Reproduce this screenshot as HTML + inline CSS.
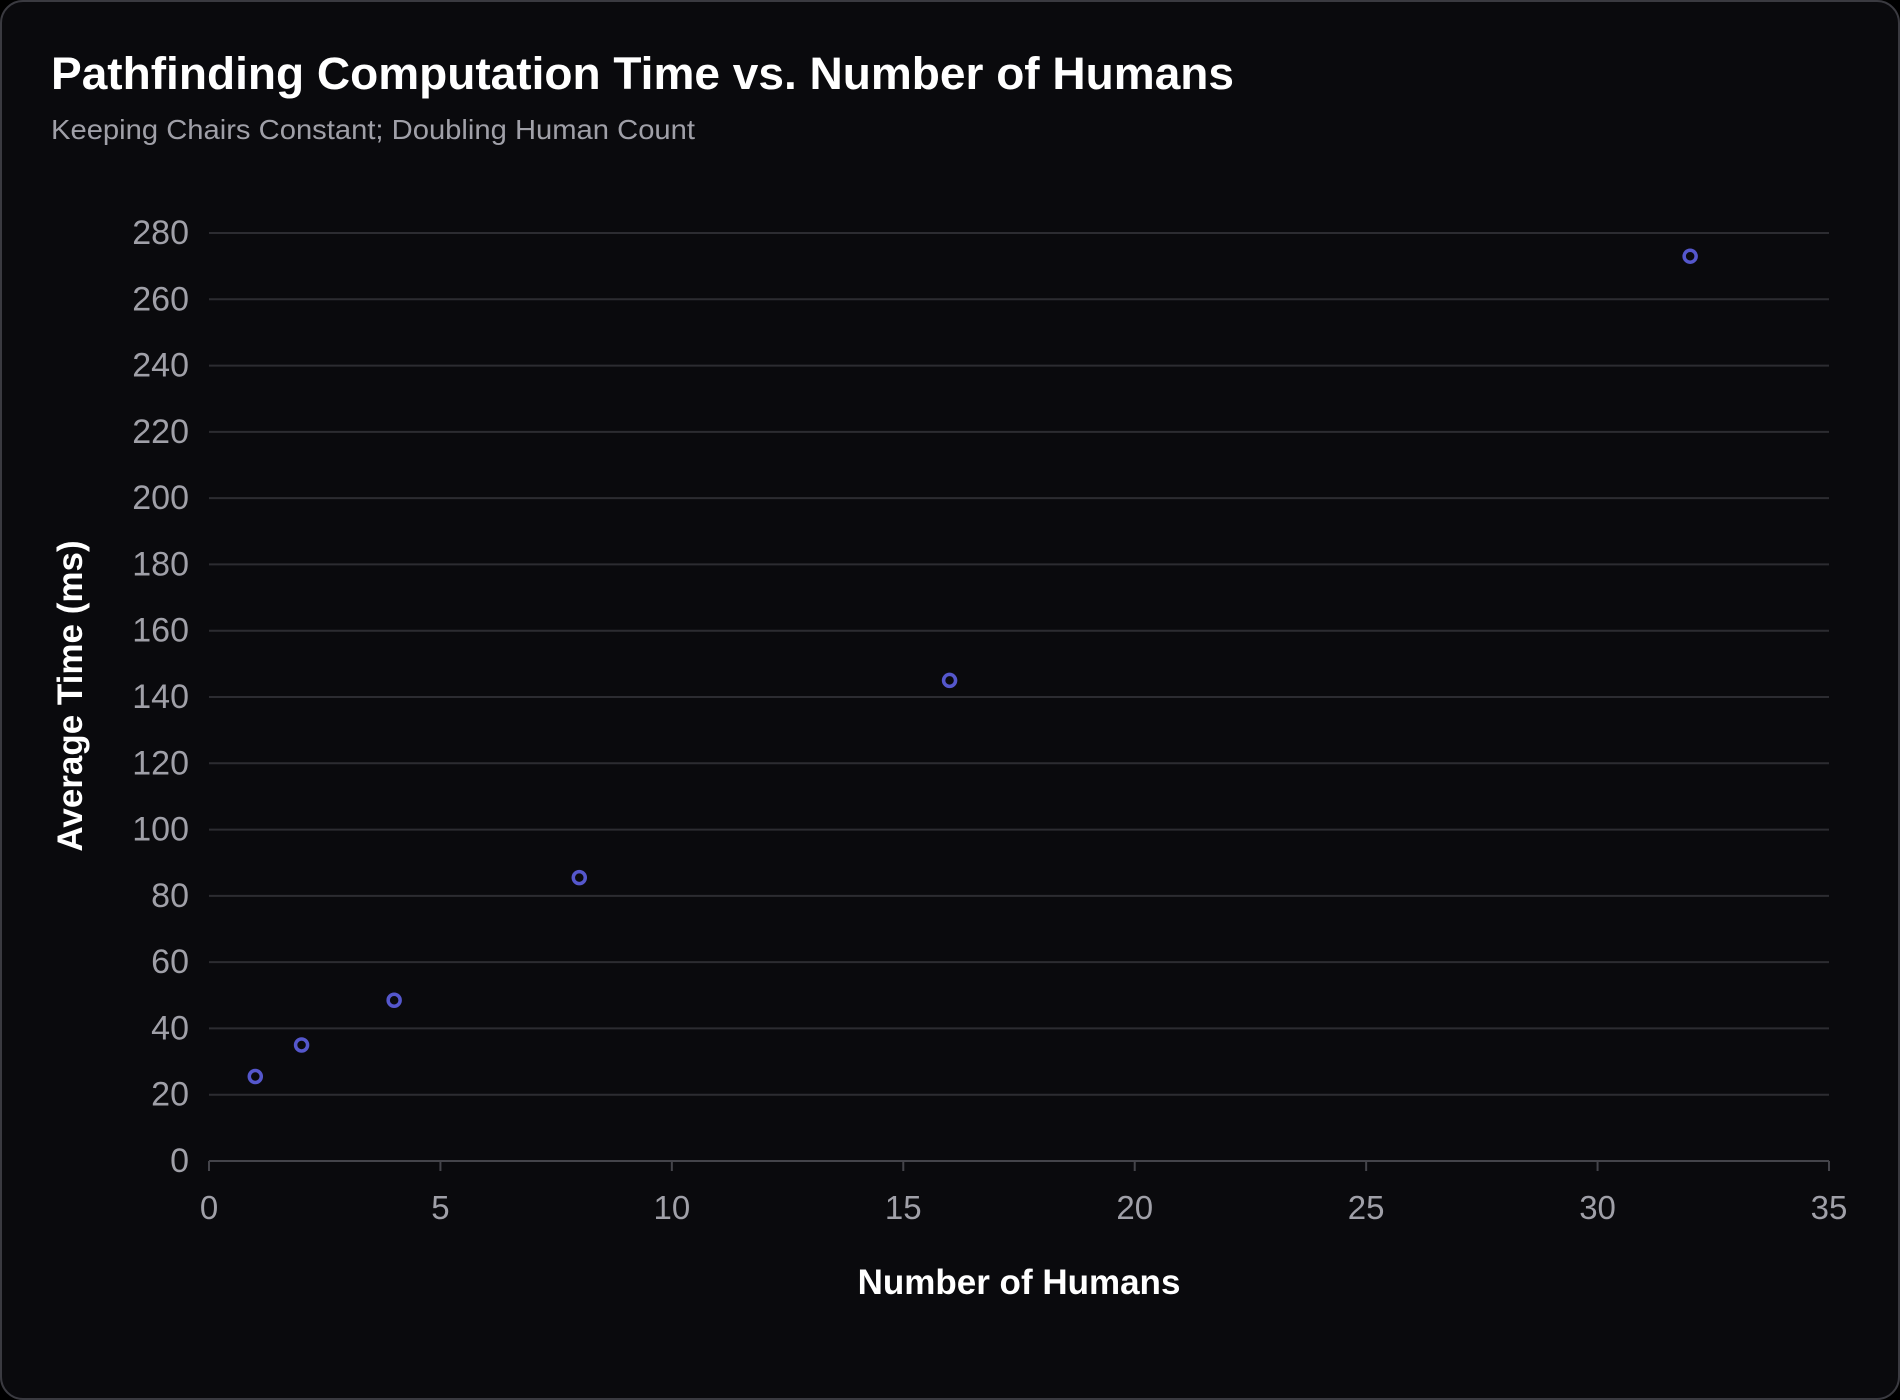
<!DOCTYPE html>
<html><head><meta charset="utf-8"><style>
html,body{margin:0;padding:0;background:#000;width:1900px;height:1400px;overflow:hidden}
svg{display:block;font-family:"Liberation Sans",Arial,sans-serif}
</style></head><body>
<svg id="chart" width="1900" height="1400" viewBox="0 0 1900 1400">
<rect x="1" y="1" width="1898" height="1398" rx="22" fill="#0a0a0d" stroke="#3a3a40" stroke-width="2"/>
<text x="51" y="89" fill="#ffffff" font-size="45" font-weight="bold" textLength="1183" lengthAdjust="spacingAndGlyphs">Pathfinding Computation Time vs. Number of Humans</text>
<text x="51" y="139" fill="#a0a0a8" font-size="28" textLength="644" lengthAdjust="spacingAndGlyphs">Keeping Chairs Constant; Doubling Human Count</text>
<g id="grid"></g><g id="axes"></g><g id="marks"></g>
<text transform="translate(82,696) rotate(-90)" text-anchor="middle" fill="#ffffff" font-size="35" font-weight="bold">Average Time (ms)</text>
<text x="1019" y="1294" text-anchor="middle" fill="#ffffff" font-size="35" font-weight="bold">Number of Humans</text>
</svg>
<script>
const humans = [1, 2, 4, 8, 16, 32];
const timesMs = [25.5, 35, 48.5, 85.5, 145, 273];
const xTicks = [0, 5, 10, 15, 20, 25, 30, 35];
const yTicks = [0, 20, 40, 60, 80, 100, 120, 140, 160, 180, 200, 220, 240, 260, 280];
const NS = "http://www.w3.org/2000/svg";
const X0 = 209, X1 = 1829, Y0 = 1161, Y1 = 233;
const xScale = v => X0 + (v - 0) / 35 * (X1 - X0);
const yScale = v => Y0 - (v - 0) / 280 * (Y0 - Y1);
function mk(tag, attrs, parent, text) {
  const el = document.createElementNS(NS, tag);
  for (const k in attrs) el.setAttribute(k, attrs[k]);
  if (text !== undefined) el.textContent = text;
  parent.appendChild(el);
  return el;
}
const grid = document.getElementById('grid');
const axes = document.getElementById('axes');
const marks = document.getElementById('marks');
yTicks.forEach(t => {
  const y = yScale(t);
  if (t !== 0) {
    const l = mk('line', {x1: X0, x2: X1, y1: y, y2: y, stroke: '#2c2c31', 'stroke-width': 2}, grid);
    
    
  }
  const tx = mk('text', {x: 189, y: y + 11, 'text-anchor': 'end', fill: '#a0a0a8', 'font-size': 34}, axes, String(t));
  
  
});
const xa = mk('line', {x1: X0, x2: X1, y1: Y0, y2: Y0, stroke: '#44444a', 'stroke-width': 2}, axes);


xTicks.forEach(t => {
  const x = xScale(t);
  const tk = mk('line', {x1: x, x2: x, y1: Y0, y2: Y0 + 10, stroke: '#44444a', 'stroke-width': 2}, axes);
  
  
  const tx = mk('text', {x: x, y: 1219, 'text-anchor': 'middle', fill: '#a0a0a8', 'font-size': 33}, axes, String(t));
  
  
});
humans.forEach((h, i) => {
  const c = mk('circle', {cx: xScale(h), cy: yScale(timesMs[i]), r: 6, fill: 'none', stroke: '#5557cc', 'stroke-width': 3.5}, marks);
  
  
});
</script>
</body></html>
